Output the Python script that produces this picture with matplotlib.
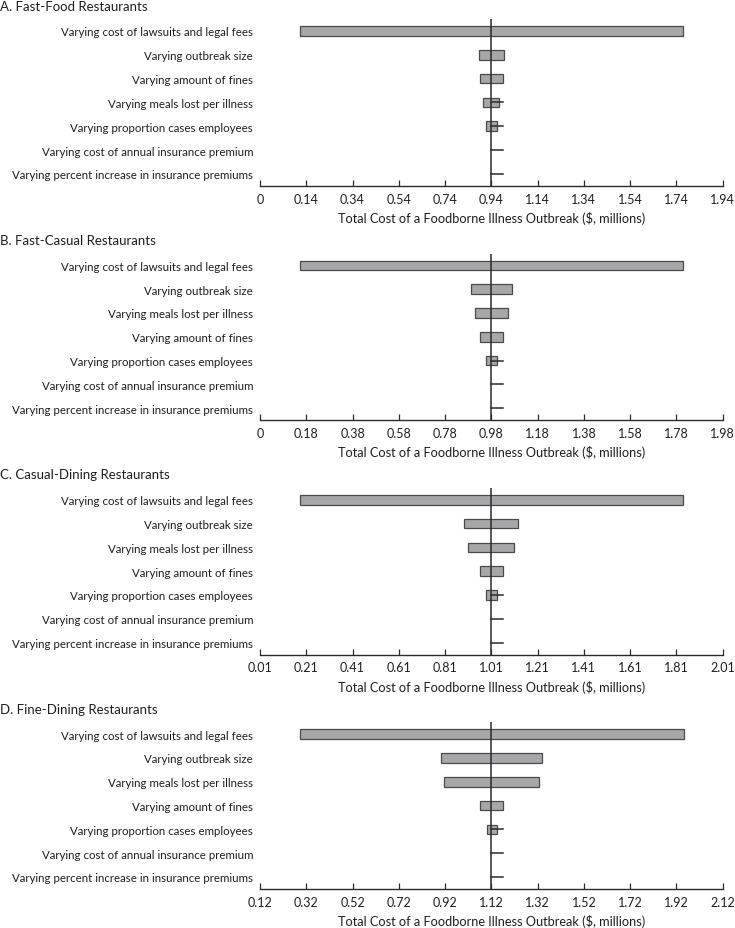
import numpy as np
import matplotlib
matplotlib.use("Agg")
import matplotlib.pyplot as plt

plt.rcParams['font.family'] = ['Lato', 'DejaVu Sans']

factors = [
    "Varying cost of lawsuits and legal fees",
    "Varying outbreak size",
    "Varying amount of fines",
    "Varying meals lost per illness",
    "Varying proportion cases employees",
    "Varying cost of annual insurance premium",
    "Varying percent increase in insurance premiums",
]
# panel B-D list meals before fines
factors_bcd = [factors[0], factors[1], factors[3], factors[2], factors[4], factors[5], factors[6]]

titles = ["A. Fast-Food Restaurants", "B. Fast-Casual Restaurants",
          "C. Casual-Dining Restaurants", "D. Fine-Dining Restaurants"]
base = [0.94, 0.98, 1.01, 1.12]

# low / high ends of each bar (millions), per panel
low_a = [0.111, 0.886, 0.891, 0.904, 0.919, 0.94, 0.94]
high_a = [1.770, 0.994, 0.991, 0.974, 0.963, 0.94, 0.94]
low_b = [0.151, 0.891, 0.910, 0.930, 0.957, 0.98, 0.98]
high_b = [1.810, 1.070, 1.051, 1.031, 1.005, 0.98, 0.98]
low_c = [0.181, 0.891, 0.910, 0.960, 0.987, 1.01, 1.01]
high_c = [1.840, 1.126, 1.109, 1.061, 1.035, 1.01, 1.01]
low_d = [0.293, 0.903, 0.916, 1.071, 1.100, 1.12, 1.12]
high_d = [1.951, 1.340, 1.328, 1.172, 1.145, 1.12, 1.12]

# short line segments running right of the bar (rows 4-7 in A, 5-7 in B-D)
whisk_a = [None, None, None, 0.990, 0.990, 0.991, 0.991]
whisk_b = [None, None, None, None, 1.031, 1.031, 1.031]
whisk_c = [None, None, None, None, 1.061, 1.061, 1.061]
whisk_d = [None, None, None, None, 1.172, 1.172, 1.172]

tick_labels = [
    ["0", "0.14", "0.34", "0.54", "0.74", "0.94", "1.14", "1.34", "1.54", "1.74", "1.94"],
    ["0", "0.18", "0.38", "0.58", "0.78", "0.98", "1.18", "1.38", "1.58", "1.78", "1.98"],
    ["0.01", "0.21", "0.41", "0.61", "0.81", "1.01", "1.21", "1.41", "1.61", "1.81", "2.01"],
    ["0.12", "0.32", "0.52", "0.72", "0.92", "1.12", "1.32", "1.52", "1.72", "1.92", "2.12"],
]

lows = [low_a, low_b, low_c, low_d]
highs = [high_a, high_b, high_c, high_d]
whisks = [whisk_a, whisk_b, whisk_c, whisk_d]
labels = [factors, factors_bcd, factors_bcd, factors_bcd]

fig = plt.figure(figsize=(7.35, 9.29), dpi=100)
W, H = 735, 929
ax_left = 260 / W
ax_w = 462.7 / W
ax_h = 166.6 / H
bottoms = [742.3, 507.9, 273.5, 39.1]
dark = "#2b2b2b"
txt = "#1e1e1e"

for k in range(4):
    ax = fig.add_axes([ax_left, bottoms[k] / H, ax_w, ax_h])
    c = base[k]
    ypos = np.arange(7)
    lo = np.array(lows[k])
    hi = np.array(highs[k])
    for i in range(7):
        if hi[i] - lo[i] > 0.001:
            ax.barh(ypos[i], hi[i] - lo[i], left=lo[i], height=0.4,
                    color="#a7a7a9", edgecolor="#4a4a4a", linewidth=0.9, zorder=2)
        if whisks[k][i] is not None:
            ax.plot([c, whisks[k][i]], [ypos[i], ypos[i]], color=dark, lw=1.1, zorder=3)
    ax.axvline(c, color=dark, lw=1.1, zorder=4)

    ticks = c + 0.2 * np.arange(-5, 6)
    ax.set_xlim(ticks[0], ticks[-1])
    ax.set_ylim(6.5, -0.5)
    ax.set_xticks(ticks)
    ax.set_xticklabels(tick_labels[k])
    ax.set_yticks(ypos)
    ax.set_yticklabels(labels[k])
    ax.tick_params(axis='y', length=0, pad=5, labelsize=8.3, labelcolor=txt)
    ax.tick_params(axis='x', direction='in', length=4, width=0.9, color=dark,
                   pad=5, labelsize=9, labelcolor=txt)
    for s in ['top', 'right', 'left']:
        ax.spines[s].set_visible(False)
    ax.spines['bottom'].set_color(dark)
    ax.spines['bottom'].set_linewidth(1.0)
    ax.set_xlabel("Total Cost of a Foodborne Illness Outbreak ($, millions)",
                  fontsize=9.2, color=txt, labelpad=4.5)
    fig.text(0.0, (bottoms[k] + ax_h * H + 13.5) / H, titles[k], fontsize=9.5,
             color=txt, ha='left', va='center')

fig.savefig("out.png", dpi=100)
